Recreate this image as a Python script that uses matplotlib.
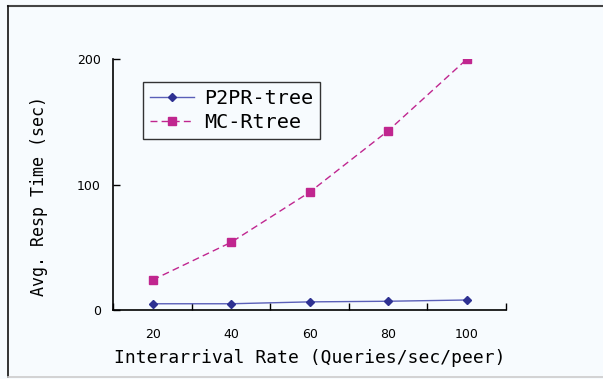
import matplotlib.pyplot as plt
from matplotlib.lines import Line2D
import numpy as np

categories = ['20', '40', '60', '80', '100']
p2pr_tree = [5, 5, 6.5, 7, 8]
mc_rtree = [24, 54, 94, 143, 200]

bg = '#f7fbfe'
mono = 'DejaVu Sans Mono'

fig = plt.figure(figsize=(6.03, 3.79), dpi=100, facecolor=bg)
ax = fig.add_axes([0.188, 0.182, 0.651, 0.6615], facecolor=bg)

x = np.arange(len(categories))
ax.plot(x, p2pr_tree, '-', color='#5a5fb8', lw=1.0, marker='D', ms=4,
        mfc='#2e3192', mec='#2e3192', label='P2PR-tree')
ax.plot(x, mc_rtree, '--', color='#c0268f', lw=1.0, dashes=(5, 3), marker='s', ms=5.5,
        mfc='#c0268f', mec='#c0268f', label='MC-Rtree')

ax.set_xlim(-0.5, len(categories) - 0.5)
ax.set_ylim(0, 200)
ax.set_xticks(x)
ax.set_xticklabels(categories, fontsize=9)
ax.set_xticks(np.arange(-0.5, len(categories)), minor=True)
ax.tick_params(axis='x', which='major', length=0, pad=13)
ax.tick_params(axis='x', which='minor', direction='in', length=5, width=1)
ax.set_yticks([0, 100, 200])
ax.tick_params(axis='y', direction='in', length=5, width=1, labelsize=9, pad=9)

for s in ['top', 'right']:
    ax.spines[s].set_visible(False)
for s in ['left', 'bottom']:
    ax.spines[s].set_linewidth(1.2)

ax.set_xlabel('Interarrival Rate (Queries/sec/peer)', fontsize=13, family=mono, labelpad=6)
ax.set_ylabel('Avg. Resp Time (sec)', fontsize=12, family=mono)
ax.yaxis.set_label_coords(-0.167, 0.455)

leg = ax.legend(loc='upper left', bbox_to_anchor=(0.075, 0.909), borderaxespad=0,
                prop={'family': mono, 'size': 14.5},
                fancybox=False, framealpha=1, facecolor=bg, edgecolor='#333333',
                handlelength=2.2, handletextpad=0.5, borderpad=0.35, labelspacing=0.22)
leg.get_frame().set_linewidth(1.0)

# outer frame
fig.add_artist(Line2D([8 / 603, 1], [1 - 6 / 379, 1 - 6 / 379], color='#444444', lw=1.5))
fig.add_artist(Line2D([8 / 603, 8 / 603], [1 - 6 / 379, 2 / 379], color='#111111', lw=1.2))
fig.add_artist(Line2D([8 / 603, 1], [2 / 379, 2 / 379], color='#cccccc', lw=1.2))

fig.savefig('out.png', dpi=100, facecolor=bg)
